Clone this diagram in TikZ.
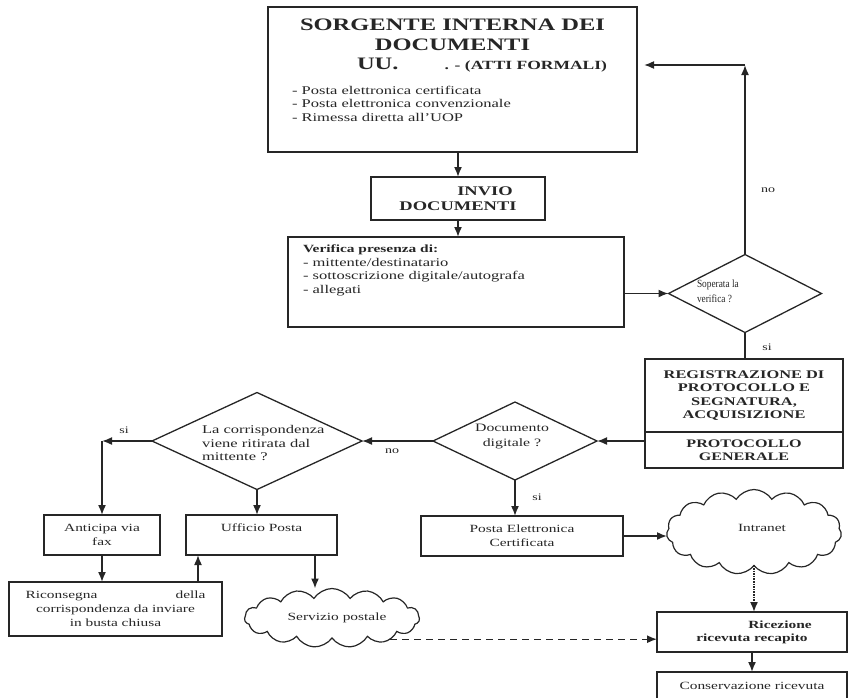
\documentclass[tikz,border=0pt]{standalone}
\usepackage{fontspec}
\setmainfont{Liberation Serif}[FakeStretch=1.4]
\newfontfamily\narrowserif{Liberation Serif}[FakeStretch=0.85]
\usetikzlibrary{arrows.meta,shapes.geometric,shapes.symbols,calc}
\definecolor{ink}{HTML}{262626}
\begin{document}
\begin{tikzpicture}[x=1pt,y=-1pt,
  every node/.style={text=ink},
  box/.style={draw=ink,line width=1.3pt,inner sep=0pt,outer sep=0pt,align=center,font=\fontsize{11}{14}\selectfont},
  dia/.style={draw=ink,diamond,line width=1.3pt,inner sep=0pt,outer sep=0pt},
  cld/.style={draw=ink,cloud,cloud puffs=15,cloud puff arc=115,cloud ignores aspect,line width=1.2pt,inner sep=0pt,outer sep=0pt},
  arr/.style={draw=ink,line width=1.6pt,-{Latex[length=10pt,width=8pt]}},
  con/.style={draw=ink,line width=1.6pt},
  lbl/.style={font=\fontsize{10}{12}\selectfont,inner sep=0pt},
  txt/.style={inner sep=0pt,outer sep=0pt,font=\fontsize{11}{13.5}\selectfont},
  listtxt/.style={inner sep=0pt,outer sep=0pt,font=\fontsize{11.8}{13.5}\selectfont}]
\useasboundingbox (0,0) rectangle (850,697);

% source box
\node[box,minimum width=369,minimum height=145] (src) at (452.5,79.5) {};
\node[txt,align=center,font=\bfseries\fontsize{17.5}{20}\selectfont] (srct) at (452.5,35) {SORGENTE INTERNA DEI\\DOCUMENTI};
\node[txt,anchor=base west,font=\bfseries] (srcu) at (357,69) {{\fontsize{17.5}{20}\selectfont UU.}\hspace{46pt}{\fontsize{12.5}{14}\selectfont . - (ATTI FORMALI)}};
\node[listtxt,anchor=north west,align=left] (srcl) at (292,86) {- Posta elettronica certificata\\- Posta elettronica convenzionale\\- Rimessa diretta all'UOP};

% invio
\node[box,minimum width=174,minimum height=43,font=\bfseries\fontsize{13.2}{15}\selectfont] (inv) at (458,198.5) {\hspace*{54pt}INVIO\\DOCUMENTI};

% verifica
\node[box,minimum width=336,minimum height=90] (ver) at (456,282) {};
\node[listtxt,anchor=north west,align=left] (vert) at (303,245) {{\bfseries\fontsize{11}{13.5}\selectfont Verifica presenza di:}\\- mittente/destinatario\\- sottoscrizione digitale/autografa\\- allegati};

% diamond 1
\node[dia,minimum width=153,minimum height=78] (d1) at (745,293.5) {};
\node[txt,anchor=west,align=left,font=\narrowserif\fontsize{11}{15}\selectfont] (d1t) at (697,291) {Soperata la\\verifica ?};
\coordinate (c1) at (745,65);
\node[lbl] (no1) at (768,190) {no};
\node[lbl] (si1) at (767,347) {si};

% registrazione
\node[box,minimum width=198,minimum height=73,font=\bfseries\fontsize{11.7}{13.5}\selectfont] (reg) at (744,395.5) {REGISTRAZIONE DI\\PROTOCOLLO E\\SEGNATURA,\\ACQUISIZIONE};
\node[box,minimum width=198,minimum height=36,font=\bfseries\fontsize{11.5}{13.5}\selectfont] (pg) at (744,450) {PROTOCOLLO\\GENERALE};

% diamond 2
\node[dia,minimum width=164,minimum height=78] (d2) at (515,441) {};
\node[txt,align=center,font=\fontsize{11.3}{15}\selectfont] (d2t) at (512,437) {Documento\\digitale ?};
\node[lbl] (no2) at (392,451) {no};
\node[lbl] (si2) at (537,497) {si};

% diamond 3
\node[dia,minimum width=210,minimum height=97] (d3) at (257,441) {};
\node[listtxt,anchor=west,align=left] (d3t) at (202,443) {La corrispondenza\\viene ritirata dal\\mittente ?};
\node[lbl] (si3) at (124,430) {si};

% lower left boxes
\node[box,minimum width=116,minimum height=40] (anti) at (102,535) {Anticipa via\\fax};
\node[box,minimum width=151,minimum height=40] (uff) at (261.5,535) {Ufficio Posta\\\phantom{x}};
\node[box,minimum width=213,minimum height=54,text width=180pt,align=center] (ric) at (115.5,609) {Riconsegna\hfill della\\corrispondenza da inviare\\in busta chiusa};
\node[cld,minimum width=175,minimum height=59] (serv) at (332,618) {};
\node[txt] (servt) at (337,618) {Servizio postale};

% right lower
\node[box,minimum width=202,minimum height=40] (pec) at (522,536) {Posta Elettronica\\Certificata};
\node[cld,minimum width=175,minimum height=85] (intr) at (754,532) {};
\node[txt] (intrt) at (762,528) {Intranet};
\node[box,minimum width=190,minimum height=40,font=\bfseries\fontsize{11}{13}\selectfont] (rec) at (752,632) {\hspace*{56pt}Ricezione\\ricevuta recapito};
\node[box,minimum width=190,minimum height=28] (cons) at (752,686) {Conservazione ricevuta};

\coordinate (c3) at (anti.north |- d3.west);
\coordinate (ricup) at ([xshift=-24pt]ric.north east);
\coordinate (uffdn) at ([xshift=-22pt]uff.south east);

% connectors
\draw[arr] (src.south -| inv.north) -- (inv.north);
\draw[arr] (inv.south) -- (inv.south |- ver.north);
\draw[arr] (ver.east |- d1.west) -- (d1.west);
\draw[arr] (d1.north) -- (c1);
\draw[arr,shorten >=7pt] (c1) -- (c1 -| src.east);
\draw[con] (d1.south) -- (d1.south |- reg.north);
\draw[arr] (pg.west |- d2.east) -- (d2.east);
\draw[arr] (d2.west) -- (d3.east);
\draw[arr] (d3.west) -- (c3);
\draw[arr] (c3) -- (anti.north);
\draw[arr] (d3.south) -- (d3.south |- uff.north);
\draw[arr] (anti.south) -- (anti.south |- ric.north);
\draw[arr] (ricup) -- (ricup |- uff.south);
\draw[arr] (uffdn) -- (uffdn |- serv.north);
\draw[arr,line width=1.3pt,dash pattern=on 7pt off 5pt] (serv.-20) -- (serv.-20 -| rec.west);
\draw[arr] (d2.south) -- (d2.south |- pec.north);
\draw[arr] (pec.east) -- (pec.east -| intr.west);
\draw[arr,densely dotted] (intr.south) -- (intr.south |- rec.north);
\draw[arr] (rec.south) -- (rec.south |- cons.north);
\end{tikzpicture}
\end{document}
